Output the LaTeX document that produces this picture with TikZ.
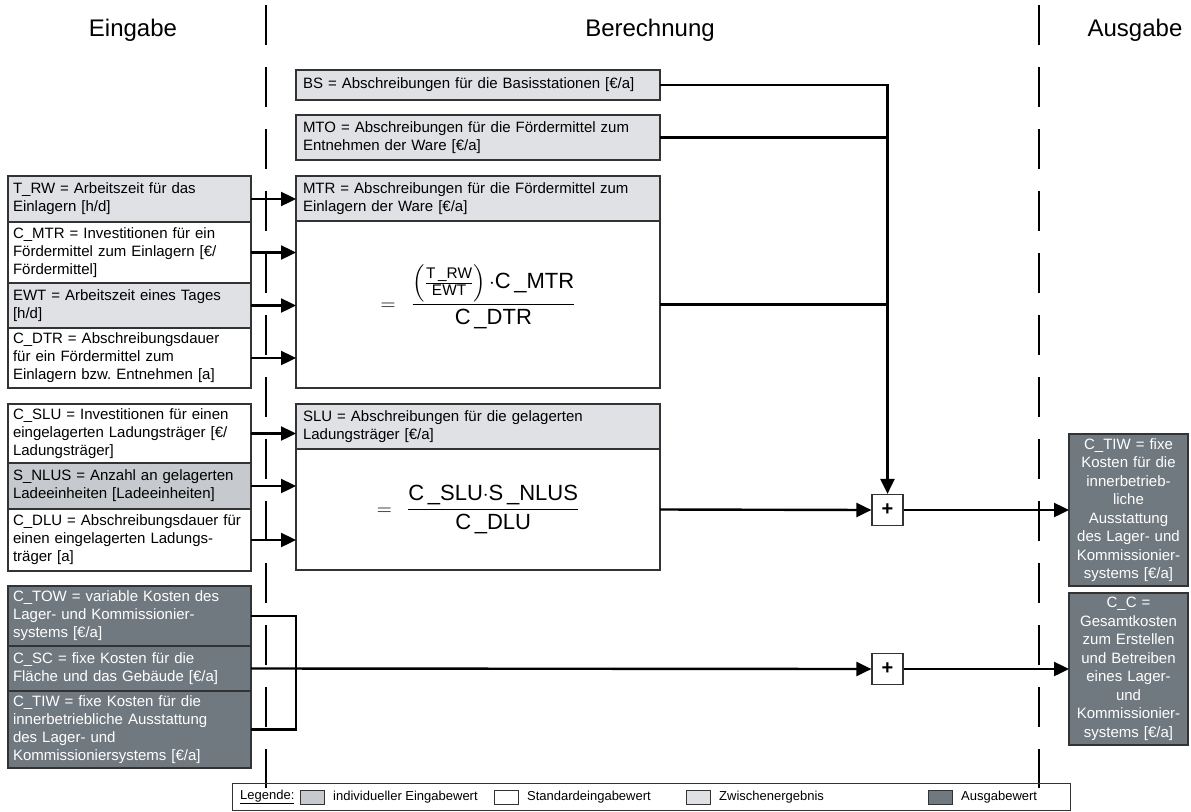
\documentclass[tikz,border=0pt]{standalone}
\usepackage{amsmath}
\usepackage{fontspec}
\setmainfont{Liberation Sans}
\usetikzlibrary{arrows.meta,positioning}

\definecolor{indivgray}{HTML}{C6C9CD}
\definecolor{intergray}{HTML}{DFE1E4}
\definecolor{outgray}{HTML}{717980}
\definecolor{boxline}{HTML}{333333}

% variable names as they are set in the formulas
\newcommand{\vname}[2]{\text{#1\,\_#2}}

\begin{document}
\frenchspacing
\begin{tikzpicture}[x=1pt, y=-1pt,
    box/.style={draw=boxline, line width=1.2pt, outer sep=0pt, inner ysep=1pt,
      anchor=north west, align=left, font=\fontsize{15}{18}\selectfont},
    inbox/.style={box, inner xsep=5pt, text width=233pt},
    midbox/.style={box, inner xsep=7pt, text width=350pt},
    resbox/.style={box, inner xsep=4pt, text width=111pt, align=center,
      fill=outgray, text=white, font=\fontsize{15}{18.5}\selectfont},
    formula/.style={font=\fontsize{22}{26}\selectfont, align=center, text height=40pt, text depth=29pt},
    plusbox/.style={draw=boxline, fill=white, line width=1.2pt, minimum size=31pt,
      inner sep=0pt, font=\fontsize{20}{20}\selectfont\bfseries},
    heading/.style={font=\fontsize{24}{28}\selectfont},
    sepline/.style={line width=2pt, dash pattern=on 40pt off 22pt},
    conn/.style={line width=2.4pt},
    link/.style={conn, -{Triangle[length=15pt,width=14pt]}},
    swatch/.style={draw=boxline, line width=1pt, minimum width=24pt, minimum height=14pt, inner sep=0pt},
    legtext/.style={font=\fontsize{13}{15}\selectfont, inner sep=0pt, anchor=west}
  ]
  \useasboundingbox (0,0) rectangle (1191,811);

  % column headings and separators
  \node[heading] (hin) at (133,30) {Eingabe};
  \node[heading] (hcalc) at (650,30) {Berechnung};
  \node[heading] (hout) at (1135,30) {Ausgabe};
  \draw[sepline] (266,5) -- (266,788);
  \draw[sepline] (1039,5) -- (1039,788);

  % inputs
  \node[inbox, fill=intergray, minimum height=46pt] (trw) at (8,176) {T\_RW = Arbeitszeit für das\\Einlagern [h/d]};
  \node[inbox, fill=white, minimum height=61pt] (cmtr) at (8,222) {C\_MTR = Investitionen für ein\\Fördermittel zum Einlagern [€/\\Fördermittel]};
  \node[inbox, fill=intergray, minimum height=45pt] (ewt) at (8,283) {EWT = Arbeitszeit eines Tages\\{}[h/d]};
  \node[inbox, fill=white, minimum height=60pt] (cdtr) at (8,328) {C\_DTR = Abschreibungsdauer\\für ein Fördermittel zum\\Einlagern bzw. Entnehmen [a]};

  \node[inbox, fill=white, minimum height=59pt] (cslu) at (8,404) {C\_SLU = Investitionen für einen\\eingelagerten Ladungsträger [€/\\Ladungsträger]};
  \node[inbox, fill=indivgray, minimum height=46pt] (snlus) at (8,463) {S\_NLUS = Anzahl an gelagerten\\Ladeeinheiten [Ladeeinheiten]};
  \node[inbox, fill=white, minimum height=62pt] (cdlu) at (8,509) {C\_DLU = Abschreibungsdauer für\\einen eingelagerten Ladungs-\\träger [a]};

  \node[inbox, fill=outgray, text=white, minimum height=60pt] (ctow) at (8,586) {C\_TOW = variable Kosten des\\Lager- und Kommissionier-\\systems [€/a]};
  \node[inbox, fill=outgray, text=white, minimum height=45pt] (csc) at (8,646) {C\_SC = fixe Kosten für die\\Fläche und das Gebäude [€/a]};
  \node[inbox, fill=outgray, text=white, minimum height=77pt] (ctiwin) at (8,691) {C\_TIW = fixe Kosten für die\\innerbetriebliche Ausstattung\\des Lager- und\\Kommissioniersystems [€/a]};

  % calculation
  \node[midbox, fill=intergray, minimum height=30pt] (bs) at (296,70) {BS = Abschreibungen für die Basisstationen [€/a]};
  \node[midbox, fill=intergray, minimum height=45pt] (mto) at (296,115) {MTO = Abschreibungen für die Fördermittel zum\\Entnehmen der Ware [€/a]};
  \node[midbox, fill=intergray, minimum height=45pt] (mtrhead) at (296,176) {MTR = Abschreibungen für die Fördermittel zum\\Einlagern der Ware [€/a]};
  \node[midbox, fill=white, minimum height=167pt, formula] (mtrbody) at (296,221)
    {${=}\;\dfrac{\left(\frac{\vname{T}{RW}}{\text{EWT}}\right){\cdot}\vname{C}{MTR}}{\vname{C}{DTR}}$};
  \node[midbox, fill=intergray, minimum height=45pt] (sluhead) at (296,404) {SLU = Abschreibungen für die gelagerten\\Ladungsträger [€/a]};
  \node[midbox, fill=white, minimum height=121pt, formula] (slubody) at (296,449)
    {${=}\;\dfrac{\vname{C}{SLU}{\cdot}\vname{S}{NLUS}}{\vname{C}{DLU}}$};

  \node[plusbox] (plusa) at (887.5,510) {+};
  \node[plusbox] (plusb) at (887.5,669) {+};

  % outputs
  \node[resbox, minimum height=152pt] (ctiwout) at (1069,434) {C\_TIW = fixe\\Kosten für die\\innerbetrieb-\\liche\\Ausstattung\\des Lager- und\\Kommissionier-\\systems [€/a]};
  \node[resbox, minimum height=152pt] (cc) at (1069,593) {C\_C =\\Gesamtkosten\\zum Erstellen\\und Betreiben\\eines Lager-\\und\\Kommissionier-\\systems [€/a]};

  % connections
  \draw[link] (trw.east) -- (trw.east -| mtrhead.west);
  \draw[link] (cmtr.east) -- (cmtr.east -| mtrbody.west);
  \draw[link] (ewt.east) -- (ewt.east -| mtrbody.west);
  \draw[link] (cdtr.east) -- (cdtr.east -| mtrbody.west);
  \draw[link] (cslu.east) -- (cslu.east -| sluhead.west);
  \draw[link] (snlus.east) -- (snlus.east -| slubody.west);
  \draw[link] (cdlu.east) -- (cdlu.east -| slubody.west);

  \draw[link] (bs.east) -| (plusa.north);
  \draw[conn] (mto.east) -- (mto.east -| plusa.north);
  \draw[conn] (mtrbody.east) -- (mtrbody.east -| plusa.north);
  \draw[link] (slubody.east) -- (plusa.west);
  \draw[link] (plusa.east) -- (ctiwout.west);

  \coordinate (jn) at (296,669);
  \draw[conn] (ctow.east) -| (jn) |- (ctiwin.east);
  \draw[link] (csc.east) -- (plusb.west);
  \draw[link] (plusb.east) -- (cc.west);

  % legend
  \node[draw=boxline, line width=1.2pt, anchor=north west, minimum width=838pt, minimum height=27pt] (legend) at (232,783) {};
  \node[legtext] (legtitle) at (240,797) {\underline{Legende:}};
  \node[swatch, fill=indivgray, anchor=west] (swindiv) at (300,797) {};
  \node[legtext, right=8pt of swindiv] (txindiv) {individueller Eingabewert};
  \node[swatch, fill=white, anchor=west] (swstd) at (494,797) {};
  \node[legtext, right=8pt of swstd] (txstd) {Standardeingabewert};
  \node[swatch, fill=intergray, anchor=west] (swinter) at (686,797) {};
  \node[legtext, right=8pt of swinter] (txinter) {Zwischenergebnis};
  \node[swatch, fill=outgray, anchor=west] (swout) at (928,797) {};
  \node[legtext, right=8pt of swout] (txout) {Ausgabewert};
\end{tikzpicture}
\end{document}
